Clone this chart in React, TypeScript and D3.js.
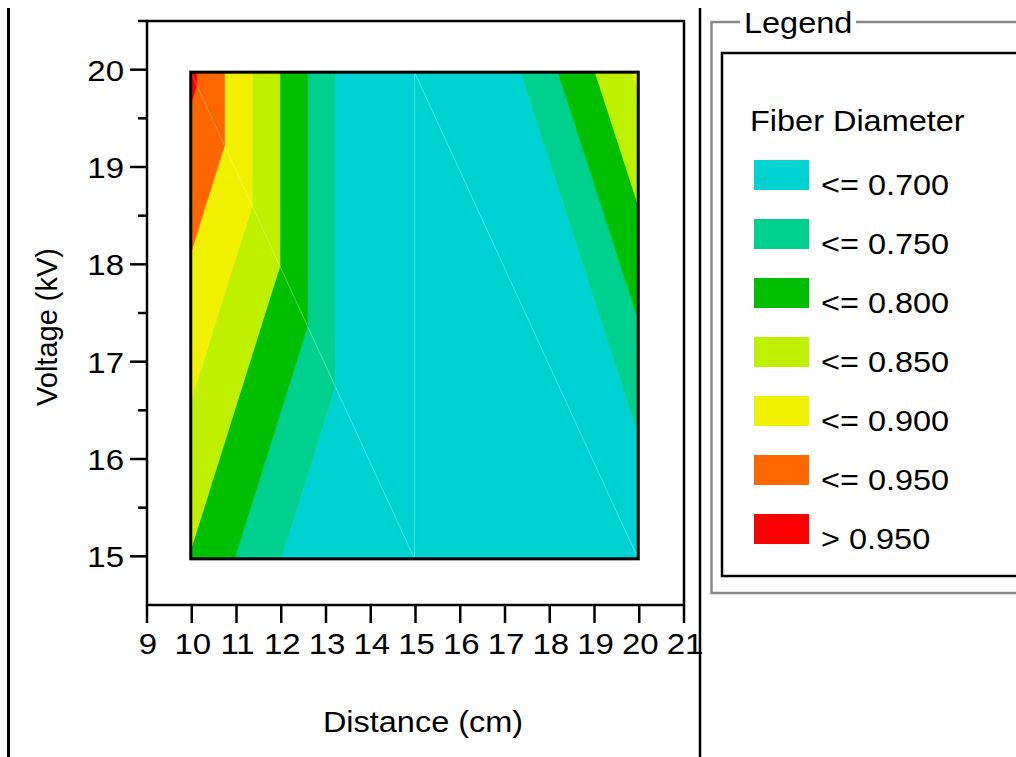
import React from "react";
import * as d3 from "d3";

// ---- data ----
const distances = [10, 15, 20]; // cm (x nodes)
const voltages = [15, 20]; // kV (y nodes)
// fiber diameter at each node, one row per voltage
const diameterAt15kV = [0.797, 0.557, 0.646];
const diameterAt20kV = [0.961, 0.557, 0.858];
const diameterRows = [diameterAt15kV, diameterAt20kV];

const thresholds = [0.7, 0.75, 0.8, 0.85, 0.9, 0.95];
const bandColors = ["#00D2D2", "#00D08E", "#00BE00", "#BEF000", "#F0F000", "#FF6600", "#FF0000"];
const bandLabels = ["<= 0.700", "<= 0.750", "<= 0.800", "<= 0.850", "<= 0.900", "<= 0.950", "> 0.950"];

const xTicks = [9, 10, 11, 12, 13, 14, 15, 16, 17, 18, 19, 20, 21];
const yTicks = [15, 16, 17, 18, 19, 20];
const yMinorTicks = [15.5, 16.5, 17.5, 18.5, 19.5, 20.5];

type P = [number, number, number];

function clip(poly: P[], t: number, above: boolean): P[] {
  const out: P[] = [];
  for (let i = 0; i < poly.length; i++) {
    const a = poly[i];
    const b = poly[(i + 1) % poly.length];
    const ina = above ? a[2] >= t : a[2] <= t;
    const inb = above ? b[2] >= t : b[2] <= t;
    if (ina) out.push(a);
    if (ina !== inb) {
      const s = (t - a[2]) / (b[2] - a[2]);
      out.push([a[0] + s * (b[0] - a[0]), a[1] + s * (b[1] - a[1]), t]);
    }
  }
  return out;
}

const FONT = "'Liberation Sans', Arial, Helvetica, sans-serif";

function T({ x, y, size = 29, sx = 1.12, anchor = "start", rotate = 0, children }: any) {
  return (
    <g transform={`translate(${x},${y}) rotate(${rotate}) scale(${sx},1)`}>
      <text x={0} y={0} fontSize={size} fontFamily={FONT} textAnchor={anchor} fill="#000">
        {children}
      </text>
    </g>
  );
}

export default function App() {
  const W = 1016;
  const H = 757;
  const x = d3.scaleLinear().domain([9, 21]).range([147, 684]);
  const y = d3.scaleLinear().domain([14.5, 20.5]).range([605, 21]);

  // build triangles (diagonal from top-left to bottom-right in each cell)
  const tris: P[][] = [];
  for (let i = 0; i < distances.length - 1; i++) {
    for (let j = 0; j < voltages.length - 1; j++) {
      const BL: P = [distances[i], voltages[j], diameterRows[j][i]];
      const BR: P = [distances[i + 1], voltages[j], diameterRows[j][i + 1]];
      const TL: P = [distances[i], voltages[j + 1], diameterRows[j + 1][i]];
      const TR: P = [distances[i + 1], voltages[j + 1], diameterRows[j + 1][i + 1]];
      tris.push([TL, TR, BR]);
      tris.push([TL, BL, BR]);
    }
  }

  const line = d3.line();
  const bands: { d: string; c: string }[] = [];
  tris.forEach((tri) => {
    for (let b = 0; b <= thresholds.length; b++) {
      let poly = tri.slice();
      if (b > 0) poly = clip(poly, thresholds[b - 1], true);
      if (b < thresholds.length && poly.length) poly = clip(poly, thresholds[b], false);
      if (poly.length >= 3) {
        const d = line(poly.map((p) => [x(p[0]), y(p[1])] as [number, number])) + "Z";
        bands.push({ d, c: bandColors[b] });
      }
    }
  });

  const x0 = x(distances[0]);
  const x1 = x(distances[distances.length - 1]);
  const y0 = y(voltages[voltages.length - 1]);
  const y1 = y(voltages[0]);

  const legendTop = 160;
  const legendStep = 59;

  return (
    <svg width={W} height={H} style={{ position: "absolute", left: 0, top: 0, background: "#fff" }}>
      <rect width={W} height={H} fill="#fff" />
      {/* page separators */}
      <line x1={8.5} x2={8.5} y1={8} y2={H} stroke="#000" strokeWidth={3} />
      <line x1={700} x2={700} y1={8} y2={H} stroke="#000" strokeWidth={2.5} />

      {/* contour plot */}
      <g transform="translate(-1,2.5)">
        {bands.map((b, i) => (
          <path key={i} d={b.d} fill={b.c} stroke={b.c} strokeWidth={0.6} />
        ))}
        {tris.map((t, i) => (
          <path
            key={"t" + i}
            d={line(t.map((p) => [x(p[0]), y(p[1])] as [number, number])) + "Z"}
            fill="none"
            stroke="rgba(255,255,255,0.18)"
            strokeWidth={0.8}
          />
        ))}
        <rect x={x0} y={y0} width={x1 - x0} height={y1 - y0} fill="none" stroke="#000" strokeWidth={3} />
      </g>

      {/* axes frame */}
      <rect x={x(9)} y={y(20.5)} width={x(21) - x(9)} height={y(14.5) - y(20.5)} fill="none" stroke="#000" strokeWidth={2.5} />
      {xTicks.map((t) => (
        <g key={"x" + t}>
          <line x1={x(t)} x2={x(t)} y1={y(14.5)} y2={y(14.5) + 18} stroke="#000" strokeWidth={2.5} />
          <T x={x(t) + 1} y={654} size={30} sx={1.1} anchor="middle">{t}</T>
        </g>
      ))}
      {yTicks.map((t) => (
        <g key={"y" + t}>
          <line x1={x(9) - 17} x2={x(9)} y1={y(t)} y2={y(t)} stroke="#000" strokeWidth={2.5} />
          <T x={124} y={y(t) + 11} size={30} sx={1.1} anchor="end">{t}</T>
        </g>
      ))}
      {yMinorTicks.map((t) => (
        <line key={"ym" + t} x1={x(9) - 9} x2={x(9)} y1={y(t)} y2={y(t)} stroke="#000" strokeWidth={2.5} />
      ))}
      <T x={423} y={732} size={29} anchor="middle">Distance (cm)</T>
      <T x={57} y={327} size={29} sx={1} anchor="middle" rotate={-90}>Voltage (kV)</T>

      {/* legend */}
      <rect x={711.5} y={22} width={400} height={571} fill="none" stroke="#888" strokeWidth={2.5} />
      <rect x={740} y={10} width={116} height={24} fill="#fff" />
      <T x={744} y={33} size={29}>Legend</T>
      <rect x={722} y={53} width={400} height={523} fill="#fff" stroke="#000" strokeWidth={2.5} />
      <T x={750} y={131} size={29}>Fiber Diameter</T>
      {bandLabels.map((lab, i) => (
        <g key={lab}>
          <rect x={754} y={legendTop + i * legendStep} width={55} height={30} fill={bandColors[i]} />
          <T x={821} y={legendTop + i * legendStep + 35} size={29}>{lab}</T>
        </g>
      ))}
    </svg>
  );
}
